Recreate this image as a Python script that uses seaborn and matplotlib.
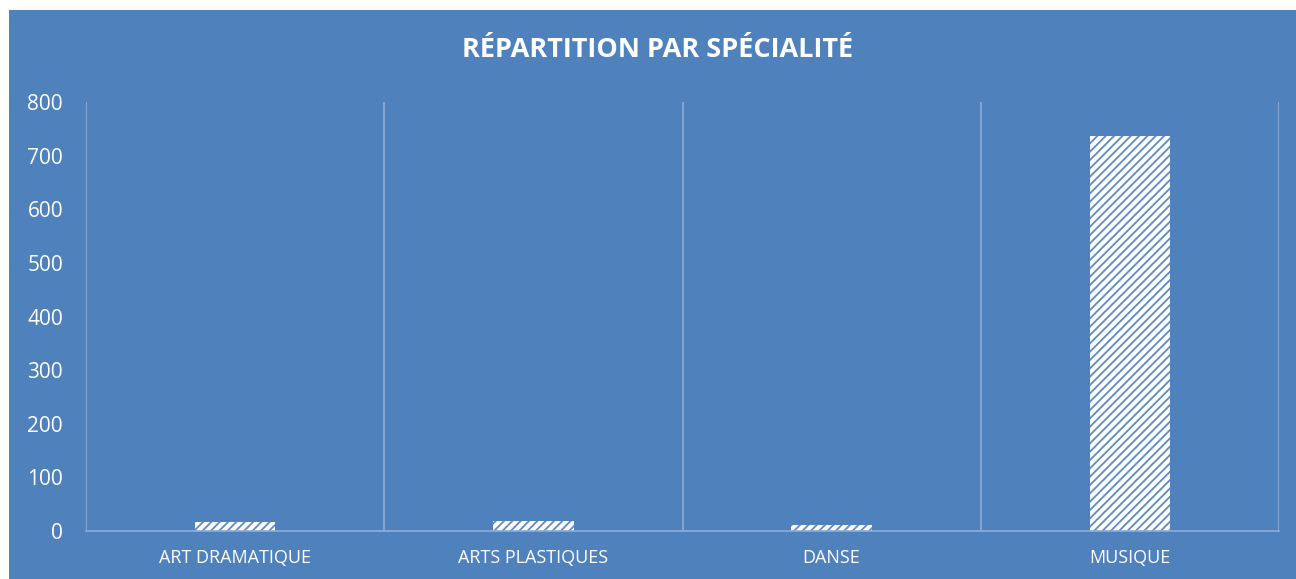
import pandas as pd
import seaborn as sns
import matplotlib.pyplot as plt
from matplotlib.patches import Rectangle

# Data
categories = ["ART DRAMATIQUE", "ARTS PLASTIQUES", "DANSE", "MUSIQUE"]
effectifs = [16, 18, 11, 737]
yticks = [0, 100, 200, 300, 400, 500, 600, 700, 800]
title = "RÉPARTITION PAR SPÉCIALITÉ"

blue = "#4F81BD"
stripe = "#5E8BC5"
line_col = "#8DADD8"

df = pd.DataFrame({"specialite": categories, "effectif": effectifs})

sns.set_theme(style="white")
plt.rcParams["font.family"] = ["Open Sans", "DejaVu Sans"]
plt.rcParams["hatch.linewidth"] = 1.3

fig = plt.figure(figsize=(12.96, 5.79), dpi=100, facecolor="white")

# blue chart area with a small white margin top / left
fig.patches.append(Rectangle((9 / 1296, 0), 1 - 9 / 1296, 1 - 10 / 579,
                             transform=fig.transFigure, facecolor=blue,
                             edgecolor="none", zorder=-1))

ax = fig.add_axes([86 / 1296, 48 / 579, 1193 / 1296, 429 / 579])
ax.set_facecolor(blue)

sns.barplot(data=df, x="specialite", y="effectif", color="white",
            width=0.27, saturation=1, ax=ax, zorder=3)

for bar in ax.patches:
    bar.set_hatch("////")
    bar.set_edgecolor(stripe)
    bar.set_linewidth(0)

ax.set_ylim(0, 800)
ax.set_xlim(-0.5, len(categories) - 0.5)
ax.set_yticks(yticks)
ax.set_yticklabels([str(v) for v in yticks])

# vertical separators between categories
ax.set_xticks([i - 0.5 for i in range(len(categories) + 1)], minor=True)
ax.grid(True, which="minor", axis="x", color=line_col, linewidth=1.2)
ax.grid(False, which="major")

for s in ["top", "right", "left"]:
    ax.spines[s].set_visible(False)
ax.spines["bottom"].set_color(line_col)
ax.spines["bottom"].set_linewidth(1.2)
ax.spines["bottom"].set_zorder(4)

ax.tick_params(axis="y", colors="white", labelsize=15, length=0, pad=16.5)
ax.tick_params(axis="x", which="both", colors="white", labelsize=13, length=0, pad=13)
ax.set_xlabel("")
ax.set_ylabel("")

fig.text(658 / 1296, 1 - 50 / 579, title, ha="center", va="center",
         color="white", fontsize=19.5, fontweight="bold")

fig.savefig("out.png", dpi=100, facecolor=fig.get_facecolor())
